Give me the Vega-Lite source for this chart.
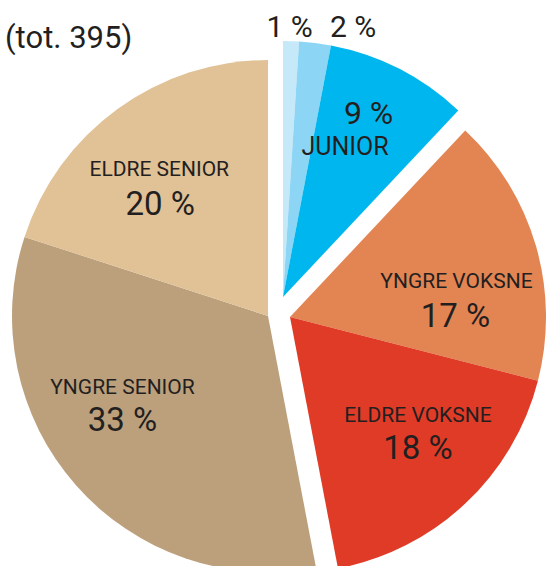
{
  "$schema": "https://vega.github.io/schema/vega-lite/v6.json",
  "autosize": {"type": "none"},
  "width": 512,
  "height": 512,
  "padding": {"left": 23, "top": 54, "right": 11, "bottom": 0},
  "background": "white",
  "config": {"view": {"stroke": null}, "text": {"font": "Roboto", "fill": "#231f20"}},
  "title": {"text": "(tot. 395)", "anchor": "start", "frame": "group", "font": "Roboto", "fontSize": 31, "fontWeight": "normal", "color": "#231f20", "baseline": "middle", "offset": 14, "dx": -18, "dy": 73},
  "data": {"values": [
    {"cat": "a", "name": "", "pct": 1, "pctText": "1 %", "group": "junior", "rank": 1},
    {"cat": "b", "name": "", "pct": 2, "pctText": "2 %", "group": "junior", "rank": 2},
    {"cat": "JUNIOR", "name": "JUNIOR", "pct": 9, "pctText": "9 %", "group": "junior", "rank": 3},
    {"cat": "YNGRE VOKSNE", "name": "YNGRE VOKSNE", "pct": 17, "pctText": "17 %", "group": "voksne", "rank": 4},
    {"cat": "ELDRE VOKSNE", "name": "ELDRE VOKSNE", "pct": 18, "pctText": "18 %", "group": "voksne", "rank": 5},
    {"cat": "YNGRE SENIOR", "name": "YNGRE SENIOR", "pct": 33, "pctText": "33 %", "group": "senior", "rank": 6},
    {"cat": "ELDRE SENIOR", "name": "ELDRE SENIOR", "pct": 20, "pctText": "20 %", "group": "senior", "rank": 7}
  ]},
  "encoding": {
    "theta": {"field": "pct", "type": "quantitative", "stack": true},
    "order": {"field": "rank", "type": "quantitative"},
    "detail": {"field": "cat", "type": "nominal"}
  },
  "layer": [
    {"mark": {"type": "arc", "xOffset": 4, "yOffset": -13},
     "encoding": {
       "color": {"field": "cat", "type": "nominal", "legend": null,
         "scale": {"domain": ["a", "b", "JUNIOR", "YNGRE VOKSNE", "ELDRE VOKSNE", "YNGRE SENIOR", "ELDRE SENIOR"],
                   "range": ["#c6e9f9", "#8cd5f5", "#00b6ef", "#e38553", "#e03b26", "#bca07c", "#e1c196"]}},
       "opacity": {"condition": {"test": "datum.group === 'junior'", "value": 1}, "value": 0}}},
    {"mark": {"type": "arc", "xOffset": 11, "yOffset": 7},
     "encoding": {
       "color": {"field": "cat", "type": "nominal", "legend": null},
       "opacity": {"condition": {"test": "datum.group === 'voksne'", "value": 1}, "value": 0}}},
    {"mark": {"type": "arc", "xOffset": -11, "yOffset": 6},
     "encoding": {
       "color": {"field": "cat", "type": "nominal", "legend": null},
       "opacity": {"condition": {"test": "datum.group === 'senior'", "value": 1}, "value": 0}}},

    {"mark": {"type": "text", "radius": 272, "xOffset": 4, "yOffset": -13, "dx": -2, "dy": 3, "fontSize": 30, "baseline": "middle", "align": "center"},
     "encoding": {"text": {"condition": {"test": "datum.cat === 'a'", "field": "pctText"}, "value": ""}}},
    {"mark": {"type": "text", "radius": 272, "xOffset": 4, "yOffset": -13, "dx": 36, "dy": 1, "fontSize": 30, "baseline": "middle", "align": "center"},
     "encoding": {"text": {"condition": {"test": "datum.cat === 'b'", "field": "pctText"}, "value": ""}}},
    {"mark": {"type": "text", "radius": 204, "xOffset": 4, "yOffset": -13, "dx": -7, "dy": -1, "fontSize": 32, "baseline": "middle", "align": "center"},
     "encoding": {"text": {"condition": {"test": "datum.cat === 'JUNIOR'", "field": "pctText"}, "value": ""}}},
    {"mark": {"type": "text", "radius": 163, "xOffset": 4, "yOffset": -13, "dx": -12, "dy": -5, "fontSize": 25, "baseline": "middle", "align": "center"},
     "encoding": {"text": {"condition": {"test": "datum.cat === 'JUNIOR'", "field": "name"}, "value": ""}}},

    {"mark": {"type": "text", "radius": 165, "xOffset": 11, "yOffset": 7, "dx": 8, "dy": 11, "fontSize": 21, "baseline": "middle", "align": "center"},
     "encoding": {"text": {"condition": {"test": "datum.cat === 'YNGRE VOKSNE'", "field": "name"}, "value": ""}}},
    {"mark": {"type": "text", "radius": 165, "xOffset": 11, "yOffset": 7, "dx": 7, "dy": 46, "fontSize": 33, "baseline": "middle", "align": "center"},
     "encoding": {"text": {"condition": {"test": "datum.cat === 'YNGRE VOKSNE'", "field": "pctText"}, "value": ""}}},
    {"mark": {"type": "text", "radius": 165, "xOffset": 11, "yOffset": 7, "dx": 15, "dy": -21, "fontSize": 21, "baseline": "middle", "align": "center"},
     "encoding": {"text": {"condition": {"test": "datum.cat === 'ELDRE VOKSNE'", "field": "name"}, "value": ""}}},
    {"mark": {"type": "text", "radius": 165, "xOffset": 11, "yOffset": 7, "dx": 15, "dy": 12, "fontSize": 33, "baseline": "middle", "align": "center"},
     "encoding": {"text": {"condition": {"test": "datum.cat === 'ELDRE VOKSNE'", "field": "pctText"}, "value": ""}}},

    {"mark": {"type": "text", "radius": 168, "xOffset": -11, "yOffset": 6, "dx": -10, "dy": -10, "fontSize": 21, "baseline": "middle", "align": "center"},
     "encoding": {"text": {"condition": {"test": "datum.cat === 'ELDRE SENIOR'", "field": "name"}, "value": ""}}},
    {"mark": {"type": "text", "radius": 168, "xOffset": -11, "yOffset": 6, "dx": -9, "dy": 25, "fontSize": 33, "baseline": "middle", "align": "center"},
     "encoding": {"text": {"condition": {"test": "datum.cat === 'ELDRE SENIOR'", "field": "pctText"}, "value": ""}}},
    {"mark": {"type": "text", "radius": 170, "xOffset": -11, "yOffset": 6, "dx": -18, "dy": -40, "fontSize": 21, "baseline": "middle", "align": "center"},
     "encoding": {"text": {"condition": {"test": "datum.cat === 'YNGRE SENIOR'", "field": "name"}, "value": ""}}},
    {"mark": {"type": "text", "radius": 170, "xOffset": -11, "yOffset": 6, "dx": -18, "dy": -7, "fontSize": 33, "baseline": "middle", "align": "center"},
     "encoding": {"text": {"condition": {"test": "datum.cat === 'YNGRE SENIOR'", "field": "pctText"}, "value": ""}}}
  ]
}
